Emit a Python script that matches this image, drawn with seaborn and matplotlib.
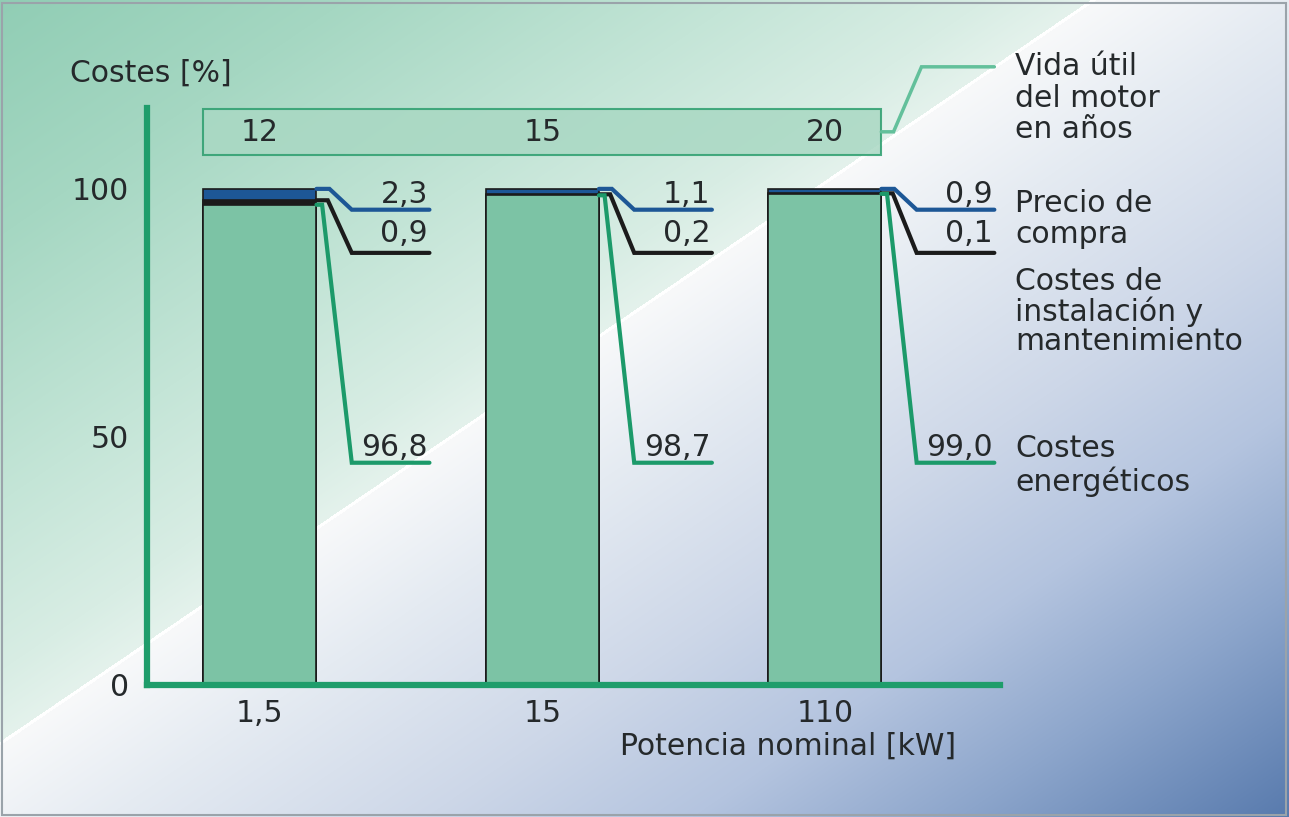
import numpy as np
import pandas as pd
import matplotlib
matplotlib.use("Agg")
import matplotlib.pyplot as plt
from matplotlib.patches import Rectangle
import seaborn as sns

# ---- data -------------------------------------------------------------
power = ["1,5", "15", "110"]          # rated power [kW]
lifetime = [12, 15, 20]               # motor service life [years]
purchase = [2.3, 1.1, 0.9]            # purchase price [%]
installation = [0.9, 0.2, 0.1]        # installation & maintenance [%]
energy = [96.8, 98.7, 99.0]           # energy costs [%]
y_ticks = [0, 50, 100]

# ---- style ------------------------------------------------------------
sns.set_style("white")
plt.rcParams["font.family"] = ["DejaVu Sans"]

W, H = 1289, 817
FS = 21.5
TXT = "#25292b"
BLUE = "#1d5796"
BLACK = "#1b1b1b"
GREEN = "#1c9a6a"
BAR = "#7cc3a5"
AXIS = "#1f9d6b"

fig = plt.figure(figsize=(W / 100, H / 100), dpi=100)


def fx(px):
    return px / W


def fy(py):
    return 1 - py / H


# ---- diagonal gradient background with a thin white stripe ------------
bg = fig.add_axes([0, 0, 1, 1], zorder=-10)
yy, xx = np.mgrid[0:H, 0:W].astype(float)
s = (xx * 0.68 + yy - 743) / 1.209
stops = [-640, -420, -200, -60, -2, 2, 120, 300, 450, 600, 800]
cols = np.array([
    [142, 204, 179],
    [165, 215, 194],
    [196, 229, 215],
    [216, 237, 228],
    [228, 242, 236],
    [248, 249, 250],
    [229, 235, 242],
    [205, 215, 232],
    [180, 196, 223],
    [140, 165, 203],
    [84, 119, 171],
]) / 255.0
img = np.stack([np.interp(s, stops, cols[:, k]) for k in range(3)], axis=-1)
img[np.abs(s) < 1.6] = 1.0
bg.imshow(img, extent=[0, 1, 0, 1], aspect="auto", origin="upper")
bg.set_xlim(0, 1)
bg.set_ylim(0, 1)
bg.axis("off")
bg.add_patch(Rectangle((2 / W, 2 / H), (W - 5) / W, (H - 5) / H,
                       transform=bg.transAxes, fill=False,
                       edgecolor="#9aa3aa", lw=1.5))

# ---- main axes --------------------------------------------------------
ax = fig.add_axes([fx(147), fy(685), (1000 - 147) / W, (685 - 108) / H])
ax.set_facecolor("none")

df = pd.DataFrame({
    "power": power,
    "total": np.add(np.add(energy, installation), purchase),
    "lower": np.add(energy, installation),
    "energy": energy,
})

for col, c in [("total", BLUE), ("lower", BLACK), ("energy", BAR)]:
    sns.barplot(data=df, x="power", y=col, color=c, width=0.4,
                saturation=1, edgecolor=BLACK, linewidth=1.2, ax=ax,
                zorder=3)

ax.set_xlim(-0.40, 2.62)
ax.set_ylim(0, 116.3)
ax.set_xlabel("")
ax.set_ylabel("")
for side in ["top", "right"]:
    ax.spines[side].set_visible(False)
for side in ["left", "bottom"]:
    ax.spines[side].set_color(AXIS)
    ax.spines[side].set_linewidth(4.5)
    ax.spines[side].set_zorder(5)
ax.set_yticks(y_ticks)
ax.set_yticklabels([str(v) for v in y_ticks])
ax.tick_params(axis="both", length=0, labelsize=FS, colors=TXT)
ax.tick_params(axis="y", pad=13)
ax.tick_params(axis="x", pad=10)


def fmt(v):
    return f"{v:.1f}".replace(".", ",")


# leader lines from each cost share to its value label
blue_lvl, black_lvl, green_lvl = 95.8, 87.1, 44.8
for i in range(len(power)):
    x0 = i + 0.2
    tot = df["total"][i]
    low = df["lower"][i]
    en = energy[i]
    ax.plot([x0, x0 + 0.046, x0 + 0.125, x0 + 0.40], [tot, tot, blue_lvl, blue_lvl],
            color=BLUE, lw=3, solid_joinstyle="miter", zorder=4, clip_on=False)
    ax.plot([x0, x0 + 0.04, x0 + 0.125, x0 + 0.40], [low, low, black_lvl, black_lvl],
            color=BLACK, lw=3, solid_joinstyle="miter", zorder=4, clip_on=False)
    ax.plot([x0, x0 + 0.02, x0 + 0.125, x0 + 0.40], [en, en, green_lvl, green_lvl],
            color=GREEN, lw=3, solid_joinstyle="miter", zorder=4, clip_on=False)
    ax.text(x0 + 0.395, blue_lvl + 1.4, fmt(purchase[i]), ha="right",
            va="baseline", fontsize=FS, color=TXT)
    ax.text(x0 + 0.395, black_lvl + 2.2, fmt(installation[i]), ha="right",
            va="baseline", fontsize=FS, color=TXT)
    ax.text(x0 + 0.395, green_lvl + 1.4, fmt(energy[i]), ha="right",
            va="baseline", fontsize=FS, color=TXT)

# service-life band
ax.add_patch(Rectangle((-0.2, 106.8), 2.4, 9.3, facecolor="#a9d8c3",
                       edgecolor="#2c9e6e", lw=1.5, alpha=0.85, zorder=2,
                       clip_on=False))
for i, yrs in enumerate(lifetime):
    ax.text(i, 111.45, str(yrs), ha="center", va="center", fontsize=FS,
            color=TXT, zorder=3)
ax.plot([2.2, 2.243, 2.342, 2.60], [111.5, 111.5, 124.6, 124.6],
        color="#63c09b", lw=2.5, solid_joinstyle="miter", clip_on=False)

# ---- titles and legend text ------------------------------------------
fig.text(fx(70), fy(82), "Costes [%]", ha="left", va="baseline",
         fontsize=FS, color=TXT)
fig.text(fx(788), fy(755), "Potencia nominal [kW]", ha="center",
         va="baseline", fontsize=FS, color=TXT)

side_lines = [
    ("Vida útil", 75), ("del motor", 107), ("en años", 138),
    ("Precio de", 212), ("compra", 243),
    ("Costes de", 290), ("instalación y", 321), ("mantenimiento", 350),
    ("Costes", 457), ("energéticos", 491),
]
for txt, base in side_lines:
    fig.text(fx(1015), fy(base), txt, ha="left", va="baseline",
             fontsize=FS, color=TXT)

fig.savefig("out.png", dpi=100)
